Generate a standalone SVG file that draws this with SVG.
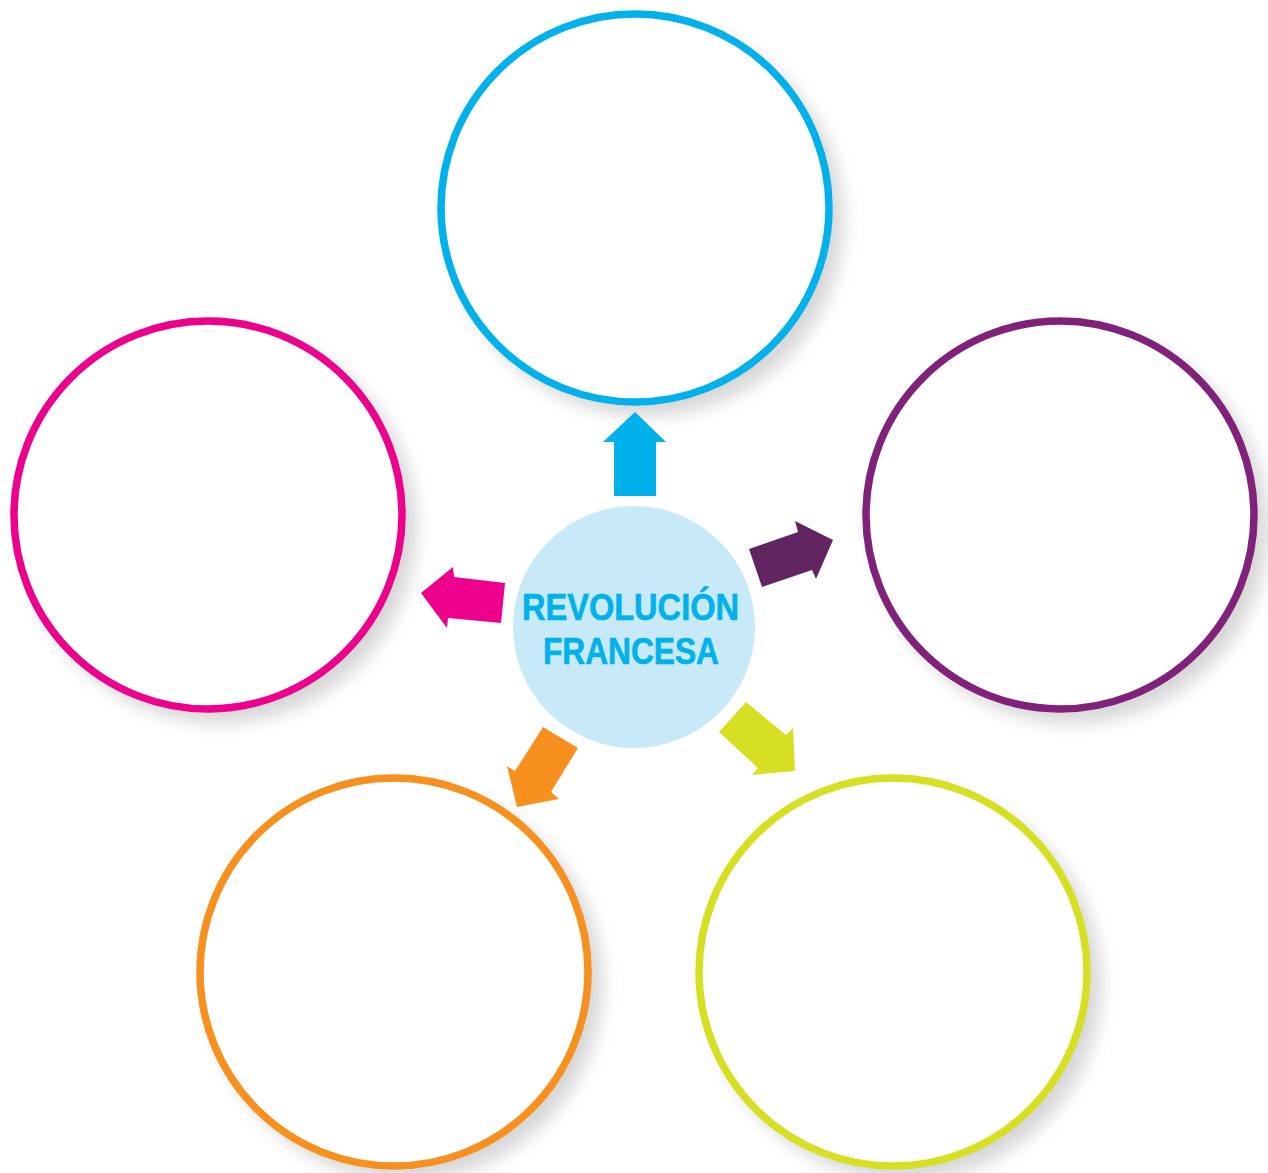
<svg xmlns="http://www.w3.org/2000/svg" width="1268" height="1173" viewBox="0 0 1268 1173">
<defs>
<filter id="sh" x="-25%" y="-25%" width="150%" height="150%">
<feGaussianBlur stdDeviation="9"/>
</filter>
<style>
.ring{fill:#ffffff;stroke-width:7.5}
.shadow{fill:#d6d6d6;filter:url(#sh)}
.label{font-family:"Liberation Sans",Arial,sans-serif;font-weight:bold;font-size:37px;fill:#00b1eb;text-anchor:middle;stroke:#00b1eb;stroke-width:0.6}
</style>
</defs>
<rect width="1268" height="1173" fill="#ffffff"/>
<g id="shadows">
<circle class="shadow" cx="647" cy="220" r="196"/>
<circle class="shadow" cx="220" cy="527" r="196"/>
<circle class="shadow" cx="1072" cy="527" r="196"/>
<circle class="shadow" cx="406" cy="984" r="196"/>
<circle class="shadow" cx="905" cy="984" r="196"/>
</g>
<g id="node-top"><circle class="ring" cx="635" cy="208" r="194" stroke="#00b1eb"/></g>
<g id="node-left"><circle class="ring" cx="208" cy="515" r="194" stroke="#ec008c"/></g>
<g id="node-right"><circle class="ring" cx="1060" cy="515" r="194" stroke="#80217a"/></g>
<g id="node-bottom-left"><circle class="ring" cx="394" cy="972" r="194" stroke="#f7901e"/></g>
<g id="node-bottom-right"><circle class="ring" cx="893" cy="972" r="194" stroke="#d7df23"/></g>
<g id="node-center">
<circle cx="634" cy="627" r="121" fill="#c7e9f8"/>
<text class="label" x="630.5" y="620" textLength="217" lengthAdjust="spacingAndGlyphs">REVOLUCIÓN</text>
<text class="label" x="631" y="664" textLength="176" lengthAdjust="spacingAndGlyphs">FRANCESA</text>
</g>
<g id="connectors">
<polygon fill="#00b1eb" points="614,496 614,442 603,442 635,412 666,442 656,442 656,496"/>
<polygon fill="#612562" points="762,587 749,549 798,532 795,521 833,540 816,579 812,570"/>
<polygon fill="#d7df23" points="746,702 719,732 758,768 752,775 795,771 793,728 786,735"/>
<polygon fill="#f7901e" points="543,727 578,748 551,792 559,799 517,807 507,766 515,771"/>
<polygon fill="#ec008c" points="505,583 501,623 448,618 447,628 421,593 453,567 454,577"/>
</g>
</svg>
